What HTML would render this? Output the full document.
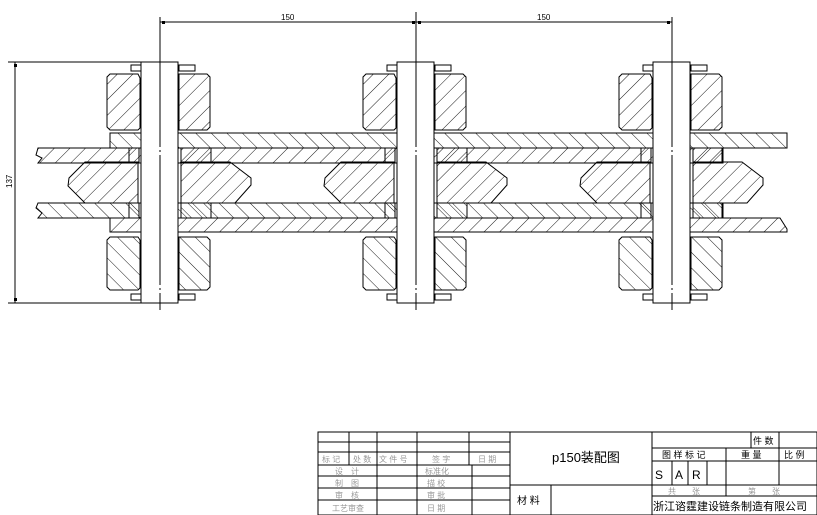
<!DOCTYPE html>
<html><head><meta charset="utf-8"><style>
html,body{margin:0;padding:0;background:#fff}
svg{display:block}
text{font-family:"Liberation Sans","Noto Sans CJK SC",sans-serif}
.g{fill:#999;font-size:8px}
</style></head><body>
<svg width="817" height="515" viewBox="0 0 817 515" xmlns="http://www.w3.org/2000/svg">
<defs>
<pattern id="hA" patternUnits="userSpaceOnUse" width="11" height="11" patternTransform="rotate(45)"><line x1="0" y1="0" x2="0" y2="11" stroke="#000" stroke-width="0.9"/></pattern>
<pattern id="hB" patternUnits="userSpaceOnUse" width="11" height="11" patternTransform="rotate(-45)"><line x1="0" y1="0" x2="0" y2="11" stroke="#000" stroke-width="0.9"/></pattern>
<g id="unit" stroke="#000" stroke-width="1">
  <path d="M-50,74 L-22,74 L-20,78 L-20,128 L-22,130 L-50,130 L-53,127 L-53,77 Z" fill="url(#hA)"/>
  <path d="M19,74 L47,74 L50,77 L50,127 L47,130 L19,130 Z" fill="url(#hA)"/>
  <path d="M-50,237 L-22,237 L-20,240 L-20,288 L-22,290 L-50,290 L-53,287 L-53,240 Z" fill="url(#hB)"/>
  <path d="M19,237 L47,237 L50,240 L50,287 L47,290 L19,290 Z" fill="url(#hB)"/>
  <rect x="-29" y="65" width="10" height="6" fill="#fff"/>
  <rect x="19" y="65" width="16" height="6" fill="#fff"/>
  <rect x="-29" y="294" width="10" height="6" fill="#fff"/>
  <rect x="19" y="294" width="16" height="6" fill="#fff"/>
  <path d="M-22,162 L-75,162 L-91,178 L-92,186 L-75,203 L-22,203 Z" fill="url(#hA)"/>
  <path d="M21,162 L70,162 L91,178 L91,185 L75,203 L21,203 Z" fill="url(#hA)"/>
  <rect x="-31" y="148" width="10" height="15" fill="url(#hA)"/>
  <rect x="21" y="148" width="30" height="15" fill="url(#hA)"/>
  <rect x="-31" y="203" width="10" height="15" fill="url(#hB)"/>
  <rect x="21" y="203" width="30" height="15" fill="url(#hB)"/>
  <rect x="-19" y="62" width="37" height="241" fill="#fff"/>
  <line x1="0" y1="17" x2="0" y2="310" stroke-dasharray="130,3,2,3"/>
</g>
</defs>
<g stroke="#000" stroke-width="1">
  <rect x="110" y="133" width="677" height="15" fill="url(#hB)"/>
  <path d="M38,148 L722,148 L722,163 L38,163 L42,158 L36,155 Z" fill="url(#hA)"/>
  <path d="M38,203 L722,203 L722,218 L38,218 L42,213 L36,208 Z" fill="url(#hB)"/>
  <path d="M110,218 L780,218 L787,229 L787,232 L110,232 Z" fill="url(#hA)"/>
</g>
<use href="#unit" x="160"/>
<use href="#unit" x="416"/>
<use href="#unit" x="672"/>
<g stroke="#000" stroke-width="1" fill="none">
  <line x1="160" y1="22" x2="672" y2="22"/>
  <line x1="416" y1="12" x2="416" y2="62"/>
  <line x1="8" y1="62" x2="141" y2="62"/>
  <line x1="8" y1="303" x2="141" y2="303"/>
  <line x1="15" y1="62" x2="15" y2="303"/>
</g>
<g fill="#000"><rect x="162" y="21" width="3" height="3"/><rect x="412" y="21" width="3" height="3"/><rect x="418" y="21" width="3" height="3"/><rect x="667" y="21" width="3" height="3"/><rect x="14" y="64" width="3" height="3"/><rect x="14" y="298" width="3" height="3"/></g>
<text x="281" y="20" font-size="8">150</text>
<text x="537" y="20" font-size="8">150</text>
<text x="0" y="0" font-size="8" transform="translate(12,188) rotate(-90)">137</text>
<g stroke="#000" stroke-width="1" fill="none">
  <rect x="318" y="432" width="499" height="83"/>
  <line x1="318" y1="442" x2="510" y2="442"/>
  <line x1="318" y1="452" x2="510" y2="452"/>
  <line x1="318" y1="465" x2="510" y2="465"/>
  <line x1="318" y1="476" x2="510" y2="476"/>
  <line x1="318" y1="488" x2="510" y2="488"/>
  <line x1="318" y1="500" x2="510" y2="500"/>
  <line x1="349" y1="432" x2="349" y2="465"/>
  <line x1="377" y1="432" x2="377" y2="515"/>
  <line x1="417" y1="432" x2="417" y2="515"/>
  <line x1="469" y1="432" x2="469" y2="465"/>
  <line x1="472" y1="465" x2="472" y2="515"/>
  <line x1="510" y1="432" x2="510" y2="515"/>
  <line x1="510" y1="485" x2="652" y2="485"/>
  <line x1="551" y1="485" x2="551" y2="515"/>
  <line x1="652" y1="432" x2="652" y2="515"/>
  <line x1="652" y1="448" x2="817" y2="448"/>
  <line x1="652" y1="461" x2="817" y2="461"/>
  <line x1="652" y1="485" x2="817" y2="485"/>
  <line x1="652" y1="496" x2="817" y2="496"/>
  <line x1="751" y1="432" x2="751" y2="448"/>
  <line x1="779" y1="432" x2="779" y2="485"/>
  <line x1="726" y1="448" x2="726" y2="496"/>
  <line x1="672" y1="461" x2="672" y2="485"/>
  <line x1="688" y1="461" x2="688" y2="485"/>
  <line x1="707" y1="461" x2="707" y2="485"/>
</g>
<text class="g" x="322" y="462">标 记</text><text class="g" x="353" y="462">处 数</text><text class="g" x="379" y="462">文 件 号</text><text class="g" x="432" y="462">签 字</text><text class="g" x="478" y="462">日 期</text>
<text class="g" x="335" y="474">设　计</text><text class="g" x="425" y="474">标准化</text>
<text class="g" x="335" y="486">制　图</text><text class="g" x="427" y="486">描 校</text>
<text class="g" x="335" y="498">审　核</text><text class="g" x="427" y="498">审 批</text>
<text class="g" x="332" y="511">工艺审查</text><text class="g" x="427" y="511">日 期</text>
<text x="552" y="462" font-size="13">p150装配图</text>
<text x="517" y="504" font-size="10">材 料</text>
<text x="753" y="444" font-size="9">件 数</text>
<text x="662" y="458" font-size="9">图 样 标 记</text><text x="741" y="458" font-size="9">重 量</text><text x="784" y="458" font-size="9">比 例</text>
<text x="655" y="479" font-size="12">S</text><text x="675" y="479" font-size="12">A</text><text x="692" y="479" font-size="12">R</text>
<text class="g" x="668" y="494">共　　张</text><text class="g" x="748" y="494">第　　张</text>
<text x="653" y="510" font-size="11">浙江谘霆建设链条制造有限公司</text>
</svg>
</body></html>
